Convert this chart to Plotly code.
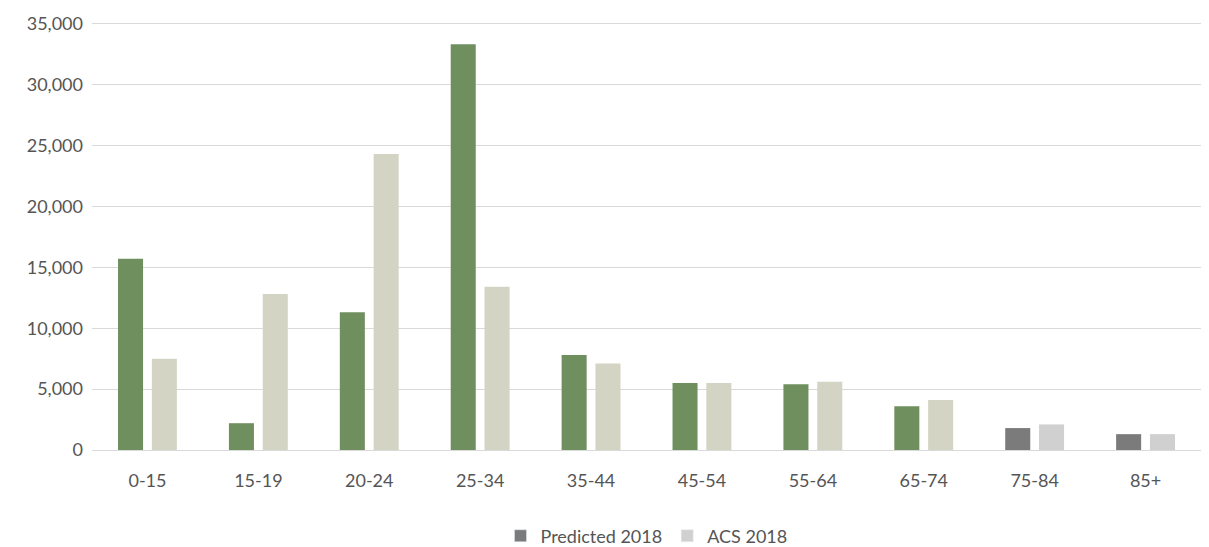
import plotly.graph_objects as go

categories = ["0-15", "15-19", "20-24", "25-34", "35-44", "45-54", "55-64", "65-74", "75-84", "85+"]
predicted_2018 = [15700, 2200, 11300, 33300, 7800, 5500, 5400, 3600, 1800, 1300]
acs_2018 = [7500, 12800, 24300, 13400, 7100, 5500, 5600, 4100, 2100, 1300]

green = "#6F8F5F"
beige = "#D3D4C4"
dark_gray = "#7B7B7B"
light_gray = "#D0D0D0"
pred_colors = [green] * 8 + [dark_gray] * 2
acs_colors = [beige] * 8 + [light_gray] * 2

fig = go.Figure()
fig.add_trace(go.Bar(x=categories, y=predicted_2018, name="Predicted 2018", offsetgroup="p",
                     marker=dict(color=pred_colors, line=dict(width=0)), showlegend=False))
fig.add_trace(go.Bar(x=categories, y=acs_2018, name="ACS 2018", offsetgroup="a",
                     marker=dict(color=acs_colors, line=dict(width=0)), showlegend=False))
# legend entries
fig.add_trace(go.Bar(x=[None], y=[None], name="Predicted 2018", offsetgroup="p",
                     marker_color=dark_gray))
fig.add_trace(go.Bar(x=[None], y=[None], name="ACS 2018", offsetgroup="a",
                     marker_color=light_gray))

font_family = "Lato, Open Sans, sans-serif"
fig.update_layout(
    width=1209, height=547,
    margin=dict(l=92, r=8, t=20, b=97, autoexpand=False),
    paper_bgcolor="white", plot_bgcolor="white",
    barmode="group", bargap=0.39, bargroupgap=0.26,
    font=dict(family=font_family, size=18, color="#555555"),
    legend=dict(orientation="h", x=0.5, xanchor="center", yref="container", y=0.02,
                yanchor="middle", font=dict(size=18, color="#555555"), itemwidth=30,
                traceorder="normal"),
    xaxis=dict(showgrid=False, showline=True, linecolor="#D9D9D9", linewidth=1,
               ticks="", tickfont=dict(size=18, color="#555555"), ticklabelstandoff=14),
    yaxis=dict(range=[0, 35300], tickvals=[0, 5000, 10000, 15000, 20000, 25000, 30000, 35000],
               tickformat=",", showgrid=True, gridcolor="#D9D9D9", gridwidth=1,
               zeroline=False, ticks="", tickfont=dict(size=18, color="#555555"),
               ticklabelstandoff=8),
)

fig.write_html("out.html")
